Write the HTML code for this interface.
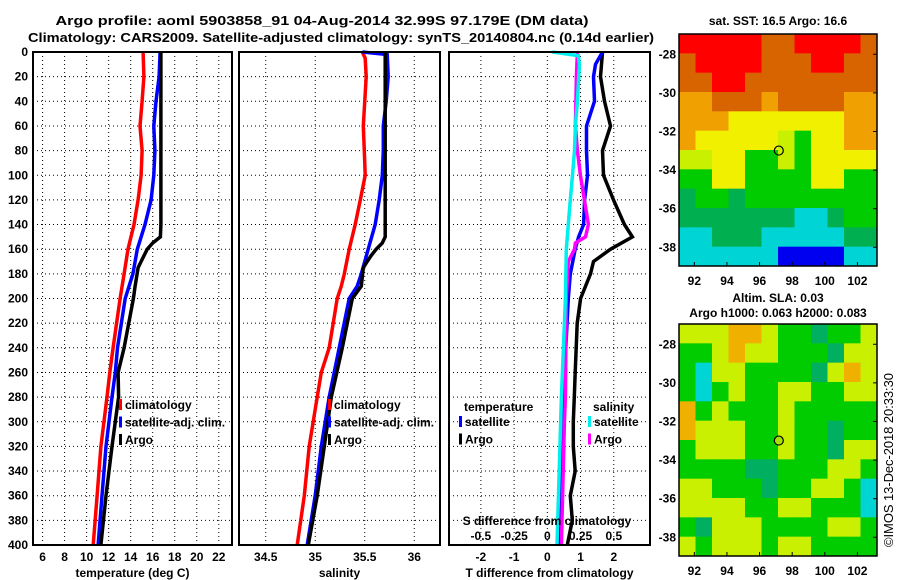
<!DOCTYPE html>
<html><head><meta charset="utf-8"><style>
body{margin:0;background:#fff;}
svg{display:block;font-family:"Liberation Sans",sans-serif;font-weight:bold;}
</style></head><body>
<svg id="c" width="900" height="580" viewBox="0 0 900 580">
<text x="322" y="25" text-anchor="middle" font-size="13" textLength="533" lengthAdjust="spacingAndGlyphs">Argo profile: aoml 5903858_91 04-Aug-2014 32.99S 97.179E (DM data)</text>
<text x="341" y="42" text-anchor="middle" font-size="13" textLength="626" lengthAdjust="spacingAndGlyphs">Climatology: CARS2009. Satellite-adjusted climatology: synTS_20140804.nc (0.14d earlier)</text>
<text x="778" y="25" text-anchor="middle" font-size="12">sat. SST: 16.5 Argo: 16.6</text>
<text x="778" y="302" text-anchor="middle" font-size="12">Altim. SLA: 0.03</text>
<text x="778" y="317" text-anchor="middle" font-size="12">Argo h1000: 0.063 h2000: 0.083</text>
<text transform="translate(893,460) rotate(-90)" text-anchor="middle" font-size="13" font-weight="normal" textLength="174">©IMOS 13-Dec-2018 20:33:30</text>
</svg>
<script>
// ---- profile data ----
const tempArgoD=[0,140,150,155,160,170,175,190,200,240,260,280,320,360,400];
const tempArgo=[16.74,16.74,16.7,16.0,15.5,14.95,14.67,14.4,14.25,13.4,12.86,12.9,12.3,11.76,11.3];
const tempSatD=[0,20,40,60,80,100,120,140,160,180,200,240,260,280,320,360,400];
const tempSat=[16.67,16.58,16.3,16.1,16.2,16.1,15.85,15.3,14.6,14.2,13.5,12.8,12.6,12.3,11.76,11.4,11.04];
const tempClimD=[0,20,40,60,80,100,120,140,160,180,200,240,260,280,320,360,400];
const tempClim=[15.13,15.2,15.04,14.85,15.04,14.95,14.67,14.3,13.76,13.4,13.04,12.4,12.1,11.85,11.3,10.95,10.6];
const salArgoD=[0,150,155,160,165,170,175,190,200,240,280,320,360,400];
const salArgo=[35.707,35.707,35.677,35.616,35.566,35.525,35.485,35.465,35.374,35.273,35.162,35.091,35.02,34.93];
const salSatD=[0,2,20,40,60,80,100,120,140,160,180,190,200,240,280,320,360,400];
const salSat=[35.475,35.727,35.737,35.717,35.687,35.687,35.677,35.646,35.606,35.535,35.465,35.424,35.343,35.242,35.141,35.061,35.0,34.919];
const salClimD=[0,5,20,60,80,100,120,140,160,180,190,200,240,260,280,320,360,400];
const salClim=[35.475,35.505,35.515,35.485,35.495,35.505,35.455,35.404,35.343,35.293,35.263,35.222,35.141,35.061,35.02,34.939,34.889,34.818];
const dTArgoD=[0,20,40,60,80,100,120,140,150,160,170,180,200,220,240,260,280,300,320,340,360,380,400];
const dTArgo=[1.66,1.6,1.72,1.9,1.66,1.69,1.99,2.32,2.56,1.9,1.39,1.3,1.0,0.9,0.87,0.84,0.81,0.78,0.78,0.84,0.69,0.75,0.6];
const dTSatD=[0,10,20,40,60,80,100,120,140,150,160,180,200,280,400];
const dTSat=[1.66,1.45,1.39,1.42,1.18,1.18,1.21,1.12,1.09,0.94,0.84,0.69,0.63,0.48,0.36];
const dSSatD=[0,3,10,40,60,80,100,120,140,160,200,280,400];
const dSSat=[0.038,0.234,0.241,0.226,0.211,0.204,0.189,0.173,0.158,0.143,0.136,0.106,0.073];
const dSArgoD=[0,20,60,80,100,120,140,150,155,160,170,200,280,300,400];
const dSArgo=[0.226,0.219,0.211,0.226,0.249,0.279,0.309,0.287,0.211,0.204,0.158,0.143,0.136,0.128,0.106];
const depthTicks=[0,20,40,60,80,100,120,140,160,180,200,220,240,260,280,300,320,340,360,380,400];
const tempTicks=[6,8,10,12,14,16,18,20,22];
const salTicks=[34.5,35,35.5,36];
const dTTicks=[-2,-1,0,1,2];
const dSTicks=[-0.5,-0.25,0,0.25,0.5];
const dSTickLabels=["-0.5","-0.25","0","0.25","0.5"];
// ---- map data ----
const sstRows=["RRRRROORRRRO","ORRRROOORROO","OORROOOOOOOO","ooOOOoOOOOoo","oooYYYYYYYoo","oYYYYYyGYYoo","yyYYGGyGYYYY","GGYYGGGGYYGG","gGGgGGGGGGGG","gggggggCCgGG","CCgggCCCCCgg","CCCCCCBBBBCC"];
const slaRows=["yyyOOyGGgGGy","GGyOyyGGGgyy","GCyyGGGGgyOy","GCGyGGyyGGyy","OGyGGGyGGGGG","OyyyGGyGGgGG","GyyyGGyGGgyy","GGGGggGGGyyG","yyGGGgGGyyGC","yyyyGGyyGGGC","GgyyyGGGGyyG","yGyyyGyyGGGG"];
const mapLatTicks=[-28,-30,-32,-34,-36,-38];
const mapLonTicks=[92,94,96,98,100,102];
const argoLon=97.18, argoLat=-32.99;

const pal={R:"#ff0000",O:"#d86400",o:"#f0a000",Y:"#f0f000",y:"#c8f000",G:"#00cc00",g:"#00b050",C:"#00d4d4",B:"#0000f0"};
const pal2={O:"#f0b000",Y:"#f0f000",y:"#c8f000",G:"#00cc00",g:"#00b060",C:"#00d4d4"};
const NS="http://www.w3.org/2000/svg";
const svg=document.getElementById('c');
function mk(tag,attrs,parent){const e=document.createElementNS(NS,tag);for(const k in attrs)e.setAttribute(k,attrs[k]);(parent||svg).appendChild(e);return e;}
const Y0=52,Y1=545;
const yD=d=>Y0+(d/400)*(Y1-Y0);

function panel(name,x0,x1,vmin,vmax,ticks,labels,xtitle){
  const g=mk('g',{});
  
  
  const xs=v=>x0+(v-vmin)/(vmax-vmin)*(x1-x0);
  depthTicks.forEach(d=>{
    const l=mk('line',{x1:x0,x2:x1,y1:yD(d),y2:yD(d),stroke:'#000','stroke-width':1,'stroke-dasharray':'1,3'},g);
    
    
  });
  ticks.forEach((t,i)=>{
    const l=mk('line',{x1:xs(t),x2:xs(t),y1:Y0,y2:Y1,stroke:'#000','stroke-width':1,'stroke-dasharray':'1,3'},g);
    
    
    const tx=mk('text',{x:xs(t),y:561,'text-anchor':'middle','font-size':12},g);
    tx.textContent=labels[i];
    
    
  });
  const tt=mk('text',{x:(x0+x1)/2,y:577,'text-anchor':'middle','font-size':12},g);
  tt.textContent=xtitle;
  
  
  return {g,xs,x0,x1};
}
function series(p,ds,vs,color,name,scale){
  const pts=ds.map((d,i)=>p.xs(vs[i]*(scale||1)).toFixed(1)+','+yD(d).toFixed(1)).join(' ');
  const l=mk('polyline',{points:pts,fill:'none',stroke:color,'stroke-width':3.5,'stroke-linejoin':'miter'},p.g);
  
  
}
function border(p){
  const r=mk('rect',{x:p.x0,y:Y0,width:p.x1-p.x0,height:Y1-Y0,fill:'none',stroke:'#000','stroke-width':2},p.g);
  
  
}
function legend(p,x,y,items,hdr){
  if(hdr){const h=mk('text',{x:x+5,y:y-14,'font-size':12},p.g);h.textContent=hdr;
    
    }
  items.forEach((it,i)=>{
    const r=mk('rect',{x:x,y:y+i*17.5-9,width:3,height:11,fill:it[0]},p.g);
    
    
    const t=mk('text',{x:x+6,y:y+i*17.5+1,'font-size':12},p.g);t.textContent=it[1];
    
    
  });
}
depthTicks.forEach(d=>{
  const t=mk('text',{x:28,y:yD(d)+4,'text-anchor':'end','font-size':12});
  t.textContent=d;
  
  
});
const p1=panel('temperature',33,232,5.13,23.2,tempTicks,tempTicks.map(String),'temperature (deg C)');
series(p1,tempClimD,tempClim,'#ff0000','temp-climatology-line');
series(p1,tempSatD,tempSat,'#0000ff','temp-satellite-line');
series(p1,tempArgoD,tempArgo,'#000000','temp-argo-line');
legend(p1,119,408,[['#ff0000','climatology'],['#0000ff','satellite-adj. clim.'],['#000','Argo']]);
border(p1);
const p2=panel('salinity',239,440,34.23,36.26,salTicks,salTicks.map(String),'salinity');
series(p2,salClimD,salClim,'#ff0000','sal-climatology-line');
series(p2,salSatD,salSat,'#0000ff','sal-satellite-line');
series(p2,salArgoD,salArgo,'#000000','sal-argo-line');
legend(p2,328,408,[['#ff0000','climatology'],['#0000ff','satellite-adj. clim.'],['#000','Argo']]);
border(p2);
const p3=panel('difference',449,650,-2.96,3.09,dTTicks,dTTicks.map(String),'T difference from climatology');
series(p3,dTArgoD,dTArgo,'#000000','tdiff-argo-line');
series(p3,dTSatD,dTSat,'#0000ff','tdiff-satellite-line');
series(p3,dSArgoD,dSArgo,'#ff00ff','sdiff-argo-line',4);
series(p3,dSSatD,dSSat,'#00eeee','sdiff-satellite-line',4);
legend(p3,459,425,[['#0000ff','satellite'],['#000','Argo']],'temperature');
legend(p3,588,425,[['#00eeee','satellite'],['#ff00ff','Argo']],'salinity');
{
  const t=mk('text',{x:547,y:525,'text-anchor':'middle','font-size':12},p3.g);t.textContent='S difference from climatology';
  
  
  dSTicks.forEach((s,i)=>{const l=mk('text',{x:p3.xs(s*4),y:540,'text-anchor':'middle','font-size':12},p3.g);l.textContent=dSTickLabels[i];
    
    });
}
border(p3);
function map(name,rows,palette,top,markerFill){
  const X0=679,X1=877,T=top,B=top+232;
  const lonMin=91.06,lonMax=103.2,latMax=-26.95,latMin=-38.97;
  const mx=v=>X0+(v-lonMin)/(lonMax-lonMin)*(X1-X0);
  const my=v=>T+(latMax-v)/(latMax-latMin)*(B-T);
  const g=mk('g',{});
  
  
  const nr=rows.length;
  rows.forEach((row,r)=>{
    const nc=row.length;
    for(let c=0;c<nc;c++){
      const cx=X0+c*(X1-X0)/nc, cy=T+r*(B-T)/nr;
      const cell=mk('rect',{x:cx.toFixed(2),y:cy.toFixed(2),width:((X1-X0)/nc+0.5).toFixed(2),height:((B-T)/nr+0.5).toFixed(2),fill:palette[row[c]]},g);
      
      
    }
  });
  const fr=mk('rect',{x:X0,y:T,width:X1-X0,height:B-T,fill:'none',stroke:'#000','stroke-width':1.5},g);
  
  
  mapLatTicks.forEach(l=>{
    const t=mk('text',{x:676,y:my(l)+4,'text-anchor':'end','font-size':12},g);t.textContent=l;
    
    
    mk('line',{x1:X1,x2:X1-4,y1:my(l),y2:my(l),stroke:'#000'},g);
  });
  mapLonTicks.forEach(l=>{
    const t=mk('text',{x:mx(l),y:B+19,'text-anchor':'middle','font-size':12},g);t.textContent=l;
    
    
    mk('line',{x1:mx(l),x2:mx(l),y1:B,y2:B-4,stroke:'#000'},g);
  });
  const m=mk('circle',{cx:mx(argoLon),cy:my(argoLat),r:4.5,fill:markerFill,stroke:'#000','stroke-width':1.2},g);
  
  
}
map('sst-map',sstRows,pal,34,'none');
map('sla-map',slaRows,pal2,324,'#a8e000');
</script>
</body></html>
